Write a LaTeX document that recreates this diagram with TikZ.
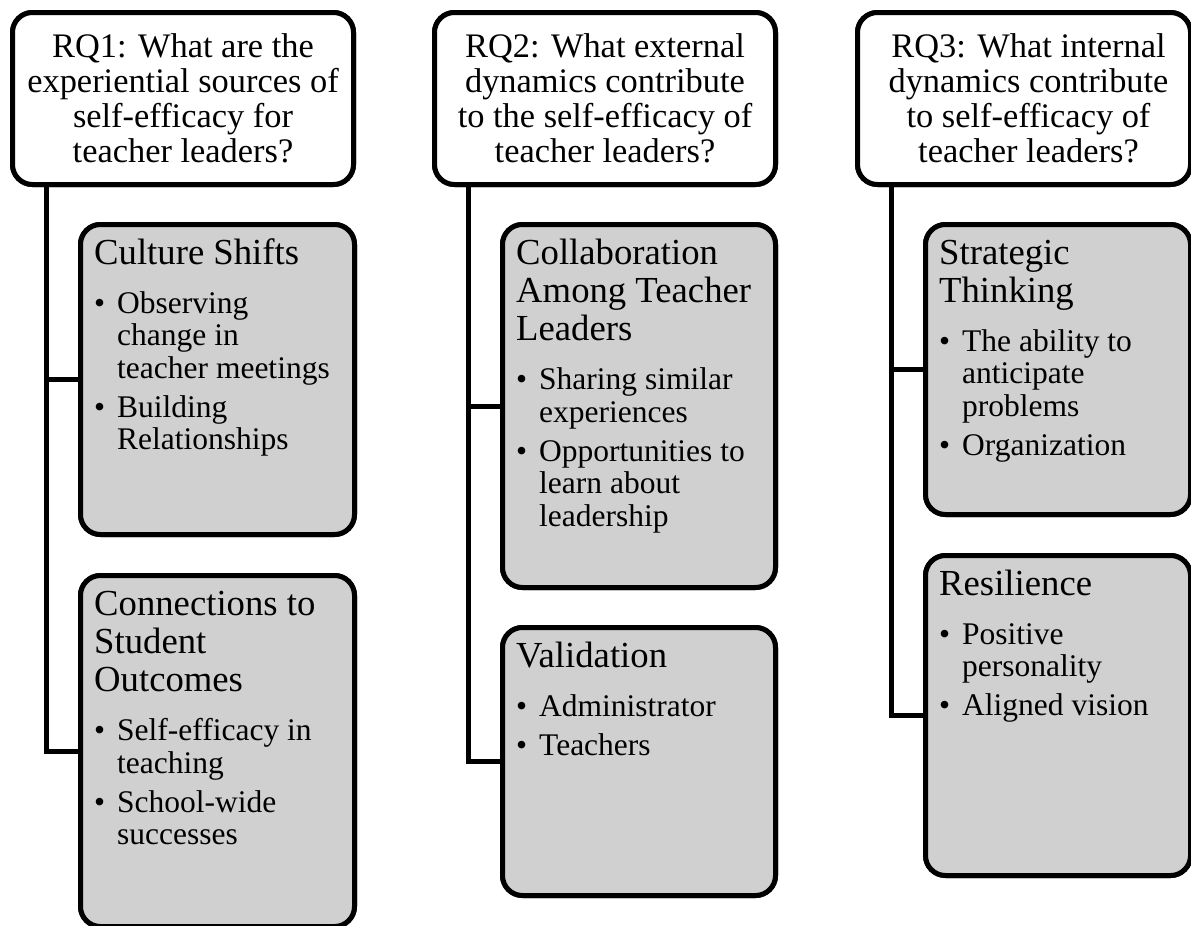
\documentclass[tikz,border=0pt]{standalone}
\usepackage{fontspec}
\setmainfont{Liberation Serif}
\usetikzlibrary{calc}
\definecolor{boxgray}{RGB}{208,208,208}
\newcommand{\bitem}[2][6.5pt]{\par\vspace{#1}\hangindent=23pt\hangafter=1\noindent\makebox[23pt][l]{\textbullet}#2\par}
\newcommand{\subtitle}[1]{{\fontsize{36.7}{38.3}\selectfont\noindent #1\par}\fontsize{31.5}{32.5}\selectfont}
\begin{document}
\begin{tikzpicture}[x=1pt,y=-1pt,
  headbox/.style={draw=black, line width=5pt, rounded corners=20pt, fill=white, anchor=north west, inner sep=0pt, minimum height=172pt},
  subbox/.style={draw=black, line width=5pt, rounded corners=20pt, fill=boxgray, anchor=north west, inner sep=0pt},
  headtext/.style={align=center, font=\fontsize{34.4}{35}\selectfont, inner sep=0pt},
  subtext/.style={anchor=base west, inner sep=0pt},
  conn/.style={draw=black, line width=5pt}]
\useasboundingbox (0,0) rectangle (1191,926);

% heading boxes
\node[headbox, minimum width=341pt] (rq1) at (10,10) {};
\node[headbox, minimum width=341pt] (rq2) at (432,10) {};
\node[headbox, minimum width=333pt] (rq3) at (855,10) {};

% sub boxes (geometry)
\path
  (78,222)  node[subbox, minimum width=274pt, minimum height=310pt] (cs) {}
  (78,573)  node[subbox, minimum width=274pt, minimum height=351pt] (co) {}
  (500,222) node[subbox, minimum width=273pt, minimum height=363pt] (cl) {}
  (500,625) node[subbox, minimum width=273pt, minimum height=268pt] (va) {}
  (923,222) node[subbox, minimum width=265pt, minimum height=290pt] (st) {}
  (923,553) node[subbox, minimum width=265pt, minimum height=320pt] (re) {};

% connectors
\coordinate (v1) at ($(rq1.south west)+(36,0)$);
\coordinate (v2) at ($(rq2.south west)+(36,0)$);
\coordinate (v3) at ($(rq3.south west)+(36,0)$);
\begin{scope}[on background layer/.style={}]
\draw[conn] (v1) |- (co.west);
\draw[conn] (v1 |- cs.west) -- (cs.west);
\draw[conn] (v2) |- (va.west);
\draw[conn] (v2 |- cl.west) -- (cl.west);
\draw[conn] (v3) |- (re.west);
\draw[conn] (v3 |- st.west) -- (st.west);
\end{scope}

% redraw boxes on top of connector ends
\node[headbox, minimum width=341pt] at (10,10) {};
\node[headbox, minimum width=341pt] at (432,10) {};
\node[headbox, minimum width=333pt] at (855,10) {};
\path
  (78,222)  node[subbox, minimum width=274pt, minimum height=310pt] {}
  (78,573)  node[subbox, minimum width=274pt, minimum height=351pt] {}
  (500,222) node[subbox, minimum width=273pt, minimum height=363pt] {}
  (500,625) node[subbox, minimum width=273pt, minimum height=268pt] {}
  (923,222) node[subbox, minimum width=265pt, minimum height=290pt] {}
  (923,553) node[subbox, minimum width=265pt, minimum height=320pt] {};

% heading texts
\node[headtext] (rq1t) at ($(rq1.center)+(0,0)$) {RQ1: What are the\\experiential sources of\\self-efficacy for\\teacher leaders?};
\node[headtext] (rq2t) at ($(rq2.center)+(0,0)$) {RQ2: What external\\dynamics contribute\\to the self-efficacy of\\teacher leaders?};
\node[headtext] (rq3t) at ($(rq3.center)+(4.5,0)$) {RQ3: What internal\\dynamics contribute\\to self-efficacy of\\teacher leaders?};

% sub texts
\node[subtext] (cst) at ($(cs.north west)+(16,42)$) {\parbox[t]{300pt}{%
  \subtitle{Culture Shifts}%
  \bitem[16.5pt]{Observing\\change in\\teacher meetings}%
  \bitem{Building\\Relationships}}};
\node[subtext] (cot) at ($(co.north west)+(16,42)$) {\parbox[t]{300pt}{%
  \subtitle{Connections to\\Student\\Outcomes}%
  \bitem[16.5pt]{Self-efficacy in\\teaching}%
  \bitem{School-wide\\successes}}};
\node[subtext] (clt) at ($(cl.north west)+(16,42)$) {\parbox[t]{300pt}{%
  \subtitle{Collaboration\\Among Teacher\\Leaders}%
  \bitem[16.5pt]{Sharing similar\\experiences}%
  \bitem{Opportunities to\\learn about\\leadership}}};
\node[subtext] (vat) at ($(va.north west)+(16,42)$) {\parbox[t]{300pt}{%
  \subtitle{Validation}%
  \bitem[16.5pt]{Administrator}%
  \bitem{Teachers}}};
\node[subtext] (stt) at ($(st.north west)+(16,42)$) {\parbox[t]{300pt}{%
  \subtitle{Strategic\\Thinking}%
  \bitem[16.5pt]{The ability to\\anticipate\\problems}%
  \bitem{Organization}}};
\node[subtext] (ret) at ($(re.north west)+(16,42)$) {\parbox[t]{300pt}{%
  \subtitle{Resilience}%
  \bitem[16.5pt]{Positive\\personality}%
  \bitem{Aligned vision}}};
\end{tikzpicture}
\end{document}
